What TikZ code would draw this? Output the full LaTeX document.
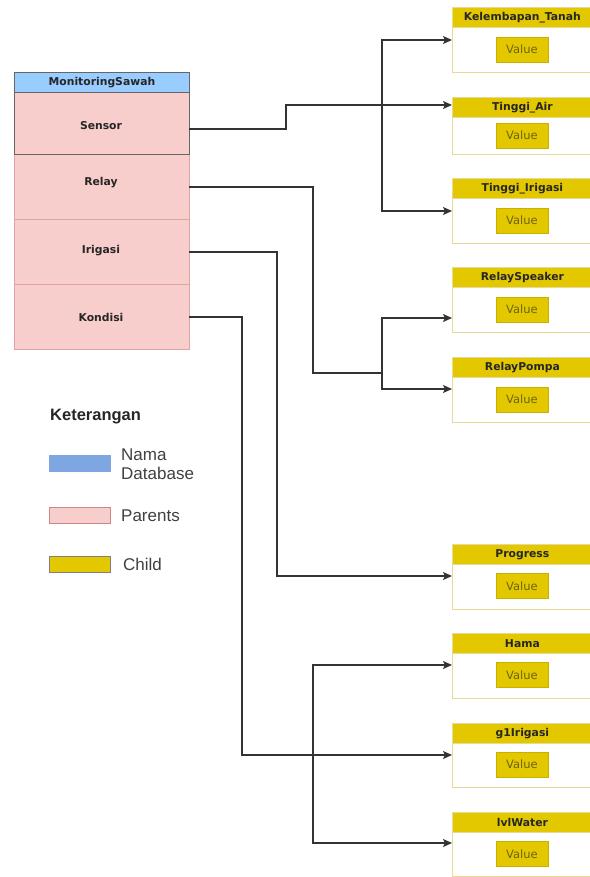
\documentclass[tikz,border=0pt]{standalone}
\usepackage{fontspec}
\setmainfont{Liberation Sans}
\newfontfamily\lblfont{DejaVu Sans}
\usetikzlibrary{arrows.meta}
\definecolor{hdrblue}{HTML}{99CCFF}
\definecolor{legblue}{HTML}{7EA6E0}
\definecolor{pinkfill}{HTML}{F8CECC}
\definecolor{pinkline}{HTML}{E0A4A2}
\definecolor{pinkdark}{HTML}{B85450}
\definecolor{yel}{HTML}{E3C800}
\definecolor{yelline}{HTML}{E8DA96}
\definecolor{valtext}{HTML}{6E6410}
\definecolor{lnk}{HTML}{333333}
\definecolor{grayline}{HTML}{666666}
\tikzset{
  lbl/.style={font=\lblfont\fontsize{10.8}{13}\selectfont\bfseries, text=black!85},
  parentrow/.style={draw=pinkline, fill=pinkfill, line width=0.9pt, minimum width=175pt, anchor=north west, inner sep=0pt},
  dbhead/.style={lbl, draw=grayline, fill=hdrblue, line width=0.9pt, minimum width=175pt, minimum height=20pt, anchor=north west, inner sep=0pt},
  chbody/.style={draw=yelline, fill=white, line width=1.1pt, minimum width=140pt, anchor=north west, inner sep=0pt},
  chhead/.style={lbl, draw=yelline, fill=yel, line width=0.8pt, minimum width=140pt, minimum height=20pt, anchor=north west, inner sep=0pt},
  valbox/.style={draw=yel!88!black, fill=yel, line width=0.6pt, minimum width=52pt, minimum height=25pt, inner sep=0pt, font=\lblfont\fontsize{11.5}{13}\selectfont, text=valtext},
  link/.style={draw=lnk, line width=1.4pt, -{Stealth[length=9pt,width=8pt,inset=2pt]}},
  legrect/.style={minimum width=61pt, minimum height=16pt, inner sep=0pt, anchor=north west, line width=0.9pt},
  legtext/.style={anchor=base west, inner sep=0pt, font=\fontsize{17}{19}\selectfont, text=black!75},
}
\newcommand{\childbox}[5]{%
  \node[chbody, minimum height={#4-#2}] (#1) at (452,#2) {};
  \node[chhead] (#1h) at (452,#2) {#5};
  \node[valbox] (#1v) at (522,{(#3+#4)/2}) {Value};
}
\begin{document}
\begin{tikzpicture}[x=1pt,y=-1pt]
\useasboundingbox (0,0) rectangle (589,877);
% parent table
\node[dbhead] (db) at (14,72) {MonitoringSawah};
\node[parentrow, minimum height=65pt] (relay) at (14,154) {};
\node[parentrow, minimum height=65pt] (irigasi) at (14,219) {};
\node[parentrow, minimum height=65pt] (kondisi) at (14,284) {};
\node[parentrow, draw=grayline, minimum height=62pt] (sensor) at (14,92) {};
\node[lbl] (sensorl) at (101,126) {Sensor};
\node[lbl] (relayl) at (101,183) {Relay};
\node[lbl] (irigasil) at (101,251) {Irigasi};
\node[lbl] (kondisil) at (101,317) {Kondisi};
% children
\childbox{kt}{7}{27}{72}{Kelembapan\_Tanah}
\childbox{ta}{97}{117}{154}{Tinggi\_Air}
\childbox{ti}{178}{198}{243}{Tinggi\_Irigasi}
\childbox{rs}{267}{287}{332}{RelaySpeaker}
\childbox{rp}{357}{377}{422}{RelayPompa}
\childbox{pg}{544}{563}{609}{Progress}
\childbox{hm}{633}{652}{698}{Hama}
\childbox{gi}{723}{742}{787}{g1Irigasi}
\childbox{lw}{812}{832}{876}{lvlWater}
% entry points
\coordinate (sensorout) at (189,129);
\coordinate (relayout) at (189,187);
\coordinate (irigasiout) at (189,252);
\coordinate (kondisiout) at (189,317);
\coordinate (ktin) at (452,40);
\coordinate (tain) at (452,105);
\coordinate (tiin) at (452,211);
\coordinate (rsin) at (452,318);
\coordinate (rpin) at (452,389);
\coordinate (pgin) at (452,576);
\coordinate (hmin) at (452,665);
\coordinate (giin) at (452,755);
\coordinate (lwin) at (452,843);
% connectors
\draw[link] (sensorout) -- (286,129) -- (286,105) -- (tain);
\draw[link] (sensorout) -- (286,129) -- (286,105) -- (382,105) |- (ktin);
\draw[link] (sensorout) -- (286,129) -- (286,105) -- (382,105) |- (tiin);
\draw[link] (relayout) -- (313,187) -- (313,373) -- (382,373) |- (rsin);
\draw[link] (relayout) -- (313,187) -- (313,373) -- (382,373) |- (rpin);
\draw[link] (irigasiout) -- (277,252) |- (pgin);
\draw[link] (kondisiout) -- (242,317) |- (giin);
\draw[link] (kondisiout) -- (242,317) -- (242,755) -- (313,755) |- (hmin);
\draw[link] (kondisiout) -- (242,317) -- (242,755) -- (313,755) |- (lwin);
% legend
\node[anchor=base west, inner sep=0pt, font=\fontsize{16.5}{19}\selectfont\bfseries, text=black!85] (ket) at (50,420) {Keterangan};
\node[legrect, fill=legblue, draw=legblue] (lgdb) at (49,455) {};
\node[legtext] (lgdbt) at (121,460.5) {Nama};
\node[legtext] (lgdbt2) at (121,479) {Database};
\node[legrect, fill=pinkfill, draw=pinkdark!70] (lgpar) at (49,507) {};
\node[legtext] (lgpart) at (121,521) {Parents};
\node[legrect, fill=yel, draw=black!50] (lgch) at (49,556) {};
\node[legtext] (lgcht) at (123,570) {Child};
\end{tikzpicture}
\end{document}
